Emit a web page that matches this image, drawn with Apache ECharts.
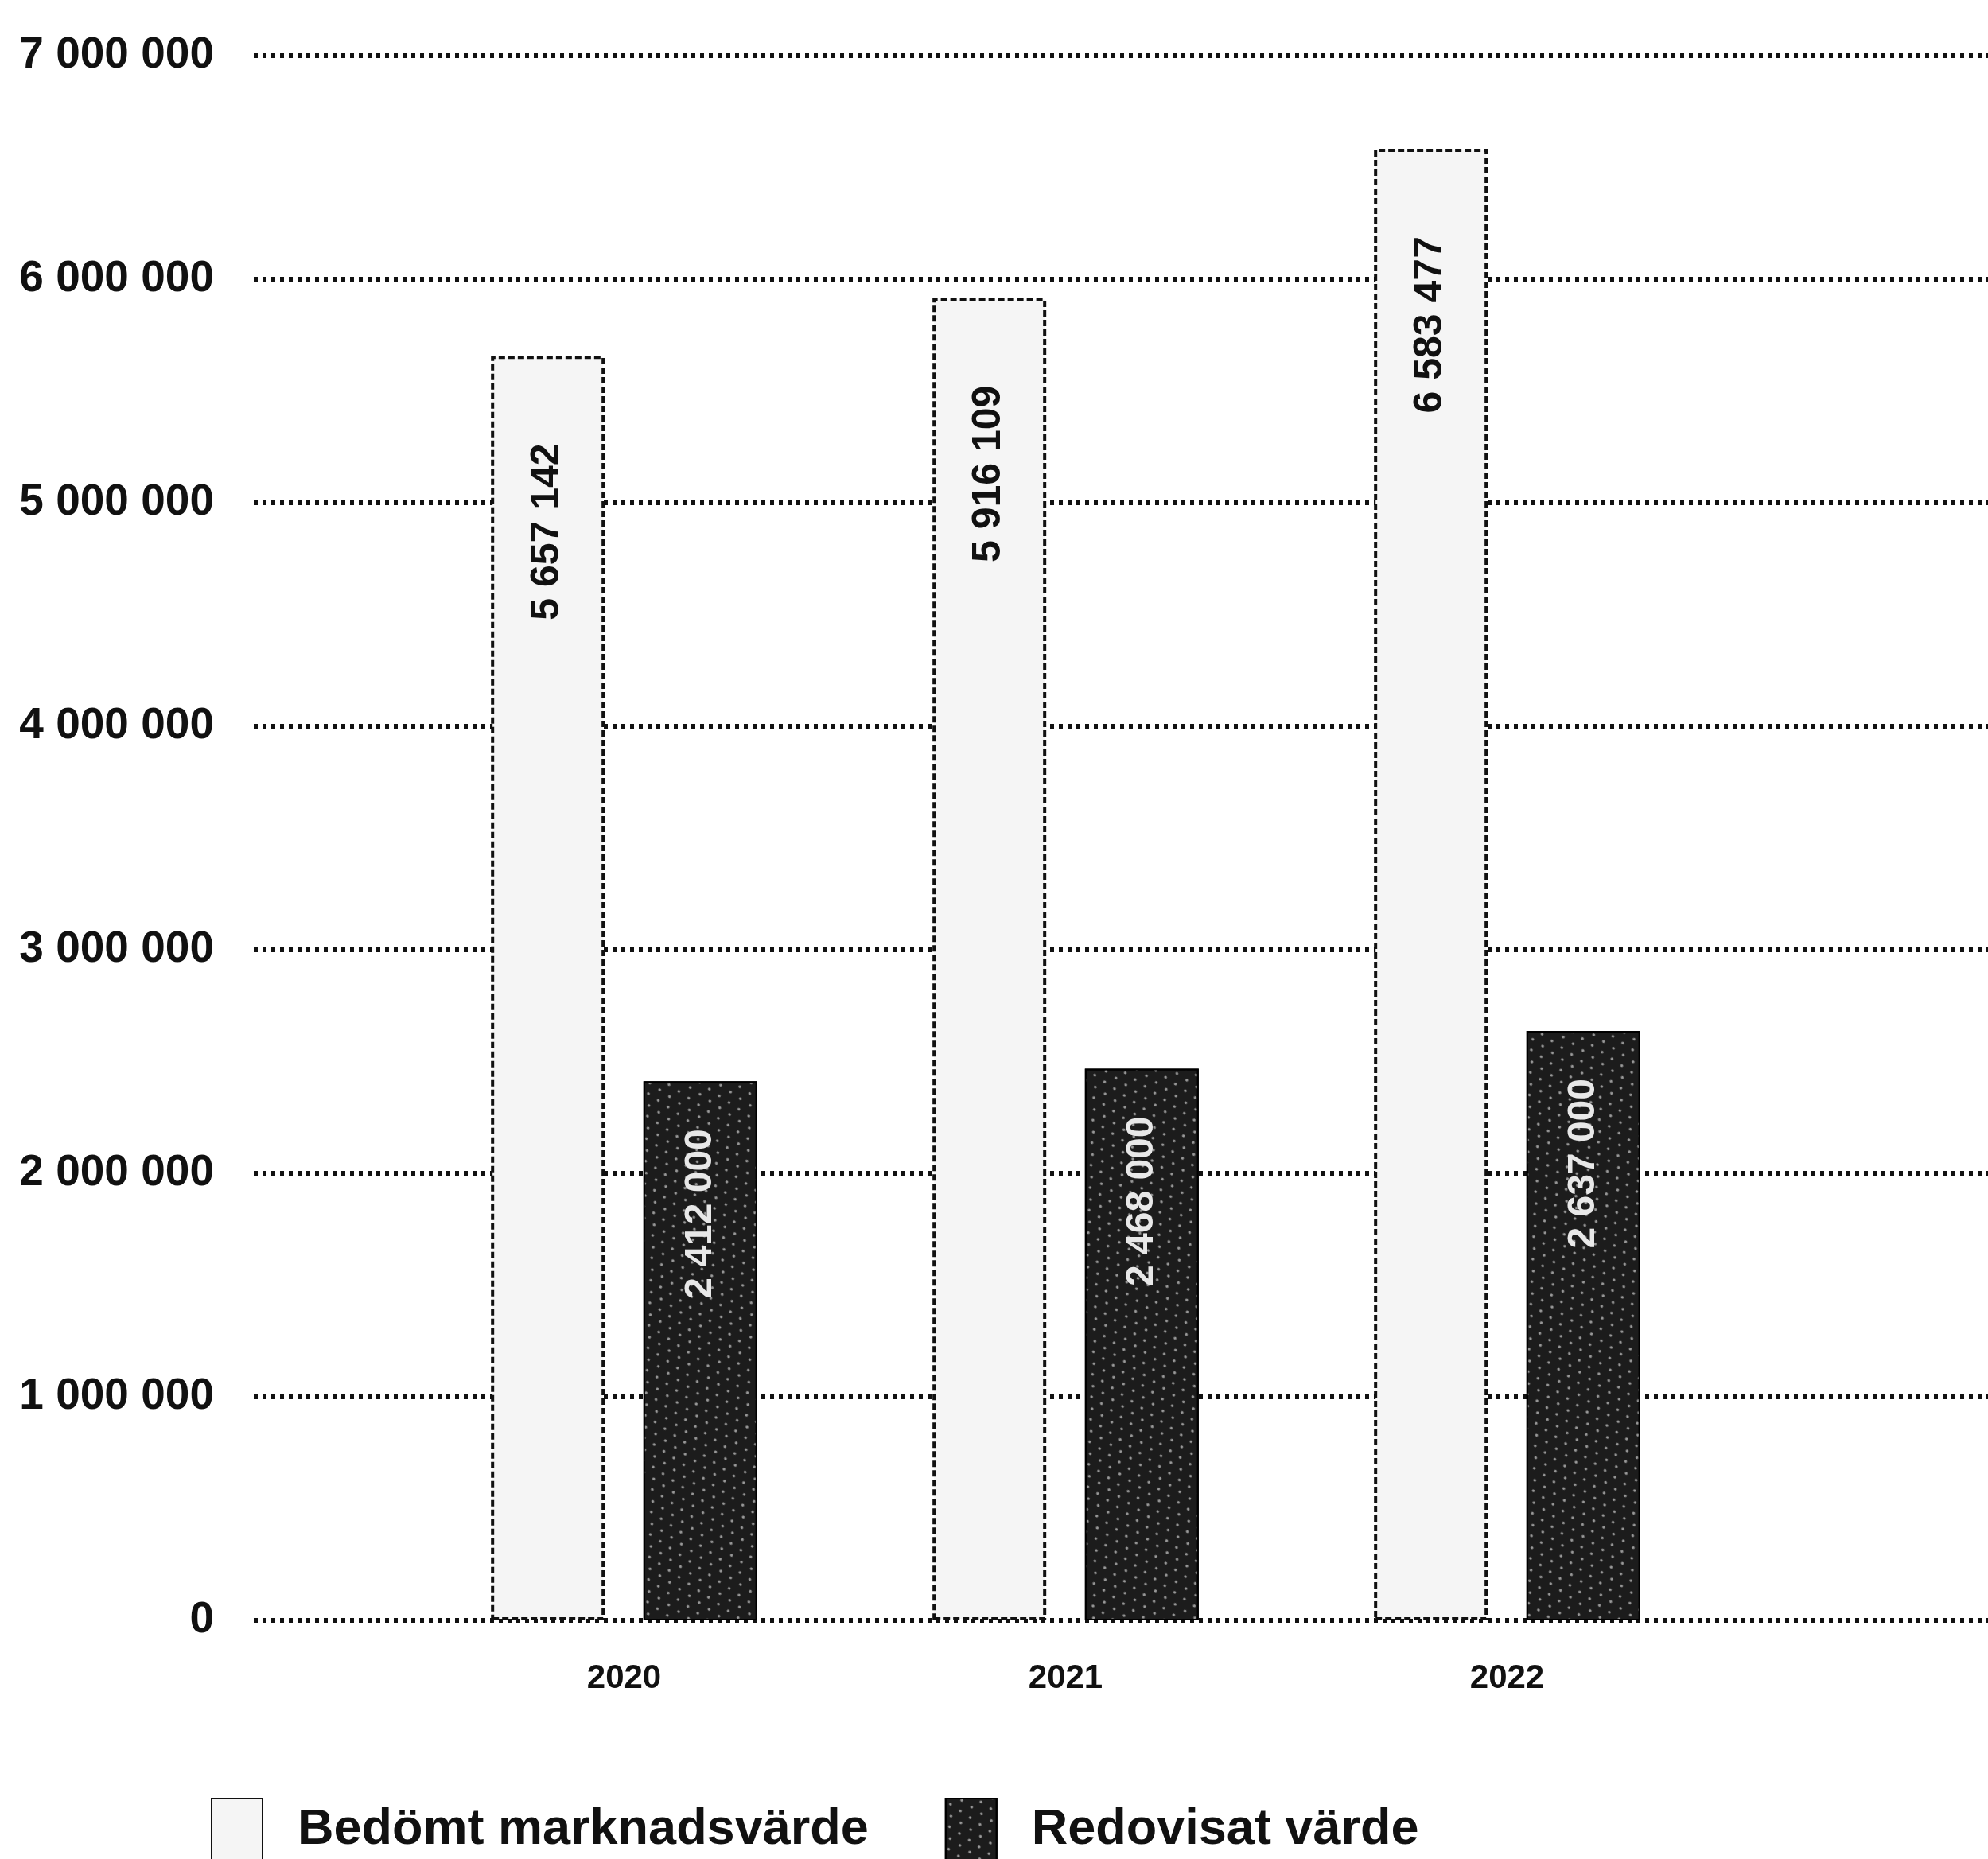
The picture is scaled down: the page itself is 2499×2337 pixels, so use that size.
<!DOCTYPE html>
<html>
<head>
<meta charset="utf-8">
<script src="https://cdn.jsdelivr.net/npm/echarts@6/dist/echarts.min.js"></script>
<style>
  html, body { margin: 0; padding: 0; background: #ffffff; }
  #chart { width: 2499px; height: 2337px; }
</style>
</head>
<body>
<div id="chart"></div>
<script>
// Fastighetsbestånd: bedömt marknadsvärde mot redovisat värde (kr)
const categories = ['2020', '2021', '2022'];
const marketValues = [5657142, 5916109, 6583477];
const bookValues = [2412000, 2468000, 2637000];
const seriesNames = ['Bedömt marknadsvärde', 'Redovisat värde'];
const yMin = 0;
const yMax = 7000000;
const yStep = 1000000;

const FONT = '"Liberation Sans", Arial, sans-serif';
const fmt = v => String(v).replace(/\B(?=(\d{3})+(?!\d))/g, ' ');

const chart = echarts.init(document.getElementById('chart'), null, { renderer: 'canvas' });

const plotTop = 70;
const plotBottom = 2337 - 2037;

chart.setOption({
  backgroundColor: '#ffffff',
  animation: false,
  grid: [
    // background grid carrying the value axis and the dotted gridlines
    { left: 319, right: 0, top: plotTop, bottom: plotBottom, containLabel: false },
    // bar grid
    { left: 507, width: 1665, top: plotTop, bottom: plotBottom, containLabel: false }
  ],
  xAxis: [
    { gridIndex: 0, type: 'category', data: categories, show: false },
    {
      gridIndex: 1, type: 'category', data: categories,
      axisLine: { show: false }, axisTick: { show: false },
      axisLabel: { color: '#111', fontFamily: FONT, fontWeight: 'bold', fontSize: 42, margin: 52 }
    }
  ],
  yAxis: [
    {
      gridIndex: 0, type: 'value', min: yMin, max: yMax, interval: yStep,
      axisLine: { show: false }, axisTick: { show: false },
      axisLabel: {
        color: '#111', fontFamily: FONT, fontWeight: 'bold', fontSize: 55, margin: 50,
        formatter: v => fmt(v)
      },
      splitLine: { show: true, lineStyle: { color: '#111', width: 6, type: [5, 6] } }
    },
    {
      gridIndex: 1, type: 'value', min: yMin, max: yMax, interval: yStep,
      show: false, splitLine: { show: false }
    }
  ],
  legend: {
    left: 260, top: 2255,
    icon: 'rect',
    itemWidth: 64, itemHeight: 80, itemGap: 96,
    data: seriesNames,
    textStyle: { color: '#111', fontFamily: FONT, fontWeight: 'bold', fontSize: 63, padding: [0, 0, 0, 39] }
  },
  series: [
    {
      name: seriesNames[0], type: 'bar', xAxisIndex: 1, yAxisIndex: 1,
      data: marketValues, barWidth: 143, barGap: '34%',
      itemStyle: {
        color: '#f5f5f5', borderColor: '#111', borderWidth: 4, borderType: [8, 4]
      },
      label: {
        show: true, position: 'insideTop', rotate: 90, distance: 110,
        align: 'right', verticalAlign: 'middle',
        color: '#111', fontFamily: FONT, fontWeight: 'bold', fontSize: 50,
        formatter: p => fmt(p.value)
      }
    },
    {
      name: seriesNames[1], type: 'bar', xAxisIndex: 1, yAxisIndex: 1,
      data: bookValues, barWidth: 143,
      itemStyle: {
        color: '#1c1c1c', borderColor: '#000', borderWidth: 2,
        decal: {
          symbol: 'circle', symbolSize: 0.7, color: 'rgba(255,255,255,0.55)',
          dashArrayX: [[6, 9], [0, 6, 6, 3]], dashArrayY: [5, 7], rotation: 0.6
        }
      },
      label: {
        show: true, position: 'insideTop', rotate: 90, distance: 60,
        align: 'right', verticalAlign: 'middle',
        color: '#e8e8e8', fontFamily: FONT, fontWeight: 'bold', fontSize: 48,
        formatter: p => fmt(p.value)
      }
    }
  ]
});
</script>
</body>
</html>
